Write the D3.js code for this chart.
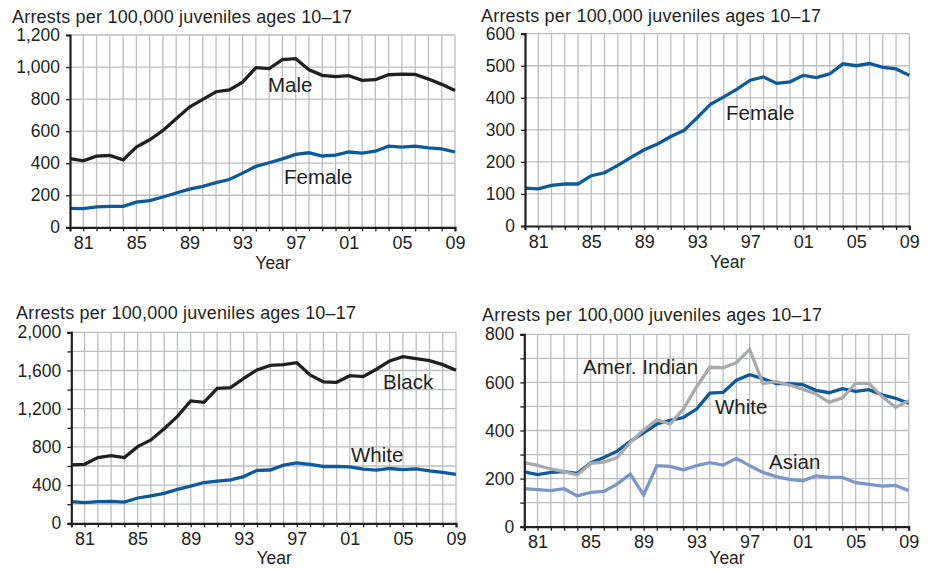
<!DOCTYPE html>
<html>
<head>
<meta charset="utf-8">
<script src="https://cdn.jsdelivr.net/npm/d3@7"></script>
<style>
  html, body { margin: 0; padding: 0; background: #fff; }
  svg { display: block; font-family: "Liberation Sans", Arial, Helvetica, sans-serif; }
</style>
</head>
<body>
<svg id="chart" width="937" height="569"></svg>
<script>
// Juvenile arrest rates, 1980–2009 (arrests per 100,000 juveniles ages 10–17)
const years = d3.range(1980, 2010);
const yearTickLabels = ["81", "85", "89", "93", "97", "01", "05", "09"];

const male = [429, 415, 444, 448, 421, 500, 546, 604, 677, 750, 798, 846, 858, 906, 996,
              990, 1046, 1052, 983, 948, 940, 946, 917, 921, 952, 956, 954, 925, 892, 854];
const female = [118, 116, 127, 131, 131, 157, 166, 189, 214, 238, 256, 279, 298, 338, 380,
                403, 427, 455, 465, 445, 450, 470, 463, 475, 506, 500, 507, 495, 490, 470];
const black = [611, 618, 688, 709, 688, 803, 873, 991, 1120, 1281, 1267, 1414, 1421, 1518, 1606,
               1654, 1661, 1682, 1553, 1480, 1476, 1546, 1536, 1613, 1700, 1745, 1724, 1703, 1661, 1602];
const white = [228, 217, 226, 229, 222, 265, 288, 314, 355, 390, 427, 442, 454, 489, 555,
               558, 609, 632, 616, 595, 595, 591, 567, 557, 574, 563, 570, 548, 534, 513];
const amerIndian = [266, 255, 240, 229, 215, 263, 269, 287, 351, 402, 444, 427, 489, 582, 663,
                    661, 682, 737, 596, 603, 589, 572, 552, 517, 536, 596, 596, 541, 496, 524];
const asian = [158, 154, 150, 158, 128, 143, 147, 177, 219, 132, 254, 251, 236, 254, 266,
               256, 284, 254, 226, 208, 197, 191, 211, 205, 205, 183, 176, 169, 172, 150];

const yTitle = "Arrests per 100,000 juveniles ages 10–17";

const colors = {
  black: "#231f20",
  blue: "#0b5a9c",
  gray: "#a7a9ac",
  lightBlue: "#7b96cb",
  grid: "#bcbec0"
};

const svg = d3.select("#chart");

function panel(opts) {
  const g = svg.append("g");
  const x = d3.scaleLinear().domain([1980, 2009]).range([opts.left, opts.right]);
  const y = d3.scaleLinear().domain([0, opts.max]).range([opts.bottom, opts.top]);

  // grid: one vertical line per year, horizontals at each minor step
  const gridY = d3.range(opts.minor, opts.max + 1, opts.minor);
  g.append("g").selectAll("line").data(years.slice(1)).join("line")
    .attr("x1", d => x(d)).attr("x2", d => x(d))
    .attr("y1", opts.top).attr("y2", opts.bottom)
    .attr("stroke", colors.grid).attr("stroke-width", 1.3);
  g.append("g").selectAll("line").data(gridY).join("line")
    .attr("x1", opts.left).attr("x2", opts.right)
    .attr("y1", d => y(d)).attr("y2", d => y(d))
    .attr("stroke", colors.grid).attr("stroke-width", 1.3);

  // series
  const line = d3.line().x((d, i) => x(years[i])).y(d => y(d));
  opts.series.forEach(s => {
    g.append("path").datum(s.values)
      .attr("d", line)
      .attr("fill", "none")
      .attr("stroke", s.color)
      .attr("stroke-width", s.width || 3.3)
      .attr("stroke-linejoin", "miter")
      .attr("stroke-linecap", "butt");
  });

  // y axis
  const yAxis = d3.axisLeft(y)
    .tickValues(d3.range(0, opts.max + 1, opts.minor))
    .tickSize(4)
    .tickPadding(6)
    .tickFormat(d => (d % opts.major === 0) ? d3.format(",")(d) : "");
  const ya = g.append("g").attr("transform", `translate(${opts.left},0)`).call(yAxis);
  ya.select(".domain").attr("stroke", colors.black).attr("stroke-width", 2.2);
  ya.selectAll(".tick line").attr("stroke", colors.black).attr("stroke-width", 1.3);
  ya.selectAll(".tick text").attr("font-size", 17.5).attr("fill", colors.black)
    .attr("font-family", "Liberation Sans, Arial, sans-serif");

  // x axis
  const xAxis = d3.axisBottom(x)
    .tickValues(years)
    .tickSize(4)
    .tickPadding(5)
    .tickFormat(d => (d - 1981) % 4 === 0 ? yearTickLabels[(d - 1981) / 4] : "");
  const xa = g.append("g").attr("transform", `translate(0,${opts.bottom})`).call(xAxis);
  xa.select(".domain").attr("stroke", colors.black).attr("stroke-width", 2.2);
  xa.selectAll(".tick line").attr("stroke", colors.black).attr("stroke-width", 1.3);
  xa.selectAll(".tick text").attr("font-size", 18).attr("fill", colors.black)
    .attr("font-family", "Liberation Sans, Arial, sans-serif");

  // titles
  g.append("text").attr("x", opts.titleX).attr("y", opts.titleY)
    .attr("font-size", 18).attr("letter-spacing", 0.2)
    .attr("fill", colors.black).text(yTitle);
  g.append("text").attr("x", (opts.left + opts.right) / 2 + 10.5)
    .attr("y", Math.min(opts.bottom + 42, 564))
    .attr("text-anchor", "middle").attr("font-size", 17.5).attr("fill", colors.black).text("Year");

  // series labels
  opts.labels.forEach(l => {
    g.append("text").attr("x", l.x).attr("y", l.y)
      .attr("font-size", 20.5).attr("fill", colors.black).text(l.text);
  });
}

panel({
  left: 70, right: 455, top: 35, bottom: 227.3, max: 1200, minor: 200, major: 200,
  titleX: 12, titleY: 22.5,
  series: [
    { values: male, color: colors.black },
    { values: female, color: colors.blue }
  ],
  labels: [
    { text: "Male", x: 268, y: 92 },
    { text: "Female", x: 284, y: 184 }
  ]
});

panel({
  left: 525, right: 909.3, top: 33.7, bottom: 226, max: 600, minor: 100, major: 100,
  titleX: 481, titleY: 21.5,
  series: [
    { values: female, color: colors.blue }
  ],
  labels: [
    { text: "Female", x: 726, y: 120 }
  ]
});

panel({
  left: 71.3, right: 456, top: 332.3, bottom: 523.3, max: 2000, minor: 200, major: 400,
  titleX: 16, titleY: 319,
  series: [
    { values: black, color: colors.black },
    { values: white, color: colors.blue }
  ],
  labels: [
    { text: "Black", x: 383, y: 389 },
    { text: "White", x: 351, y: 462 }
  ]
});

panel({
  left: 524.3, right: 908.7, top: 334.3, bottom: 526.7, max: 800, minor: 100, major: 200,
  titleX: 482, titleY: 321,
  series: [
    { values: asian, color: colors.lightBlue },
    { values: white, color: colors.blue },
    { values: amerIndian, color: colors.gray }
  ],
  labels: [
    { text: "Amer. Indian", x: 583, y: 374 },
    { text: "White", x: 715, y: 414 },
    { text: "Asian", x: 769, y: 469 }
  ]
});
</script>
</body>
</html>
